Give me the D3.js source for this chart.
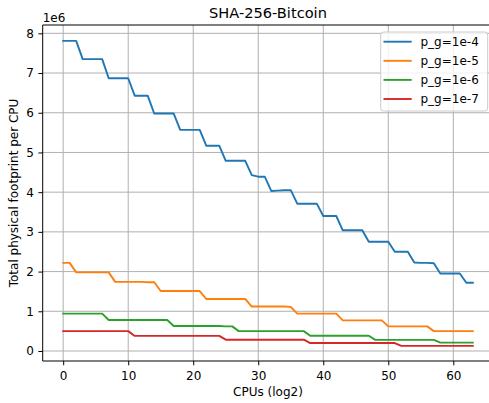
<!DOCTYPE html>
<html>
<head>
<meta charset="utf-8">
<script src="https://cdn.jsdelivr.net/npm/d3@7"></script>
<style>
  html, body { margin: 0; padding: 0; background: #fff; }
  svg { display: block; font-family: "DejaVu Sans", sans-serif; }
</style>
</head>
<body>
<svg id="chart" width="489" height="403"></svg>
<script>
// ---- data (values in units of 1e6) ----
const cpus = [0,1,2,3,4,5,6,7,8,9,10,11,12,13,14,15,16,17,18,19,20,21,22,23,24,25,26,27,28,29,30,31,
              32,33,34,35,36,37,38,39,40,41,42,43,44,45,46,47,48,49,50,51,52,53,54,55,56,57,58,59,60,61,62,63];
const seriesNames = ["p_g=1e-4", "p_g=1e-5", "p_g=1e-6", "p_g=1e-7"];
const pg1e4 = [7.81,7.81,7.81, 7.35,7.35,7.35,7.35, 6.87,6.87,6.87,6.87, 6.43,6.43,6.43,
               5.98,5.98,5.98,5.98, 5.57,5.57,5.57,5.57, 5.17,5.17,5.17, 4.79,4.79,4.79,4.79,
               4.43,4.39,4.39, 4.03,4.04,4.05,4.05, 3.71,3.71,3.71,3.71, 3.40,3.40,3.40,
               3.04,3.04,3.04,3.04, 2.75,2.75,2.75,2.75, 2.50,2.50,2.50, 2.23,2.22,2.22,2.21,
               1.95,1.95,1.95,1.95, 1.72,1.72];
const pg1e5 = [2.22,2.22, 1.98,1.98,1.98,1.98,1.98,1.98, 1.74,1.74,1.74,1.74,1.74,1.73,1.73,
               1.51,1.51,1.51,1.51,1.51,1.51,1.51, 1.31,1.31,1.31,1.31,1.31,1.31,1.31,
               1.12,1.12,1.12,1.12,1.12,1.12,1.11, 0.94,0.94,0.94,0.94,0.94,0.94,0.94,
               0.77,0.77,0.77,0.77,0.77,0.77,0.77, 0.62,0.62,0.62,0.62,0.62,0.62,0.62,
               0.50,0.50,0.50,0.50,0.50,0.50,0.50];
const pg1e6 = [0.94,0.94,0.94,0.94,0.94,0.94,0.94, 0.78,0.78,0.78,0.78,0.78,0.78,0.78,0.78,0.78,0.78,
               0.63,0.63,0.63,0.63,0.63,0.63,0.63,0.63,0.62,0.62,
               0.50,0.50,0.50,0.50,0.50,0.50,0.50,0.50,0.50,0.50,0.50,
               0.385,0.385,0.385,0.385,0.385,0.385,0.385,0.385,0.385,0.385,
               0.28,0.28,0.28,0.28,0.28,0.28,0.28,0.28,0.28,0.28,
               0.21,0.21,0.21,0.21,0.21,0.21];
const pg1e7 = [0.50,0.50,0.50,0.50,0.50,0.50,0.50,0.50,0.50,0.50,0.50,
               0.38,0.38,0.38,0.38,0.38,0.38,0.38,0.38,0.38,0.38,0.38,0.38,0.38,0.38,
               0.285,0.285,0.285,0.285,0.285,0.285,0.285,0.285,0.285,0.285,0.285,0.285,0.285,
               0.20,0.20,0.20,0.20,0.20,0.20,0.20,0.20,0.20,0.20,0.20,0.20,0.20,0.20,
               0.13,0.13,0.13,0.13,0.13,0.13,0.13,0.13,0.13,0.13,0.13,0.13];
const xTicks = [0,10,20,30,40,50,60];
const yTicks = [0,1,2,3,4,5,6,7,8];
const colors = ["#1f77b4", "#ff7f0e", "#2ca02c", "#d62728"];

const allSeries = [pg1e4, pg1e5, pg1e6, pg1e7];

// ---- layout ----
const L = 42.7, R = 493.3, T = 25, B = 361;
const svg = d3.select("#chart");
const x = d3.scaleLinear().domain([-3.15, 66.15]).range([L, R]);
const y = d3.scaleLinear().domain([-0.252, 8.21]).range([B, T]);
const fs = 12;

// grid
const grid = svg.append("g");
grid.selectAll("line.gx").data(xTicks).enter().append("line")
  .attr("x1", d => x(d)).attr("x2", d => x(d)).attr("y1", T).attr("y2", B)
  .attr("stroke", "#b0b0b0").attr("stroke-width", 1);
grid.selectAll("line.gy").data(yTicks).enter().append("line")
  .attr("x1", L).attr("x2", R).attr("y1", d => y(d)).attr("y2", d => y(d))
  .attr("stroke", "#b0b0b0").attr("stroke-width", 1);

// lines
const line = d3.line().x((d, i) => x(cpus[i])).y(d => y(d));
allSeries.forEach((s, k) => {
  svg.append("path").datum(s).attr("d", line)
    .attr("fill", "none").attr("stroke", colors[k]).attr("stroke-width", 1.9)
    .attr("stroke-linejoin", "round").attr("stroke-linecap", "square");
});

// axes
const xAxis = svg.append("g").attr("transform", `translate(0,${B})`)
  .call(d3.axisBottom(x).tickValues(xTicks).tickSize(4.3).tickPadding(6).tickSizeOuter(0));
const yAxis = svg.append("g").attr("transform", `translate(${L},0)`)
  .call(d3.axisLeft(y).tickValues(yTicks).tickSize(4.3).tickPadding(4.5).tickSizeOuter(0));
[xAxis, yAxis].forEach(a => {
  a.selectAll("text").attr("font-size", fs).attr("font-family", "DejaVu Sans").attr("fill", "#000");
  a.selectAll("line").attr("stroke", "#000").attr("stroke-width", 1);
  a.select(".domain").remove();
});
// spines
svg.append("line").attr("x1", L).attr("x2", L).attr("y1", T).attr("y2", B).attr("stroke", "#000").attr("stroke-width", 1);
svg.append("line").attr("x1", L).attr("x2", R).attr("y1", B).attr("y2", B).attr("stroke", "#000").attr("stroke-width", 1);
svg.append("line").attr("x1", L).attr("x2", R).attr("y1", T).attr("y2", T).attr("stroke", "#000").attr("stroke-width", 1);

// offset text
svg.append("text").attr("x", L).attr("y", 22).attr("font-size", fs).text("1e6");

// title
svg.append("text").attr("x", (L + R) / 2).attr("y", 18.3).attr("text-anchor", "middle")
  .attr("font-size", 14.6).text("SHA-256-Bitcoin");

// axis labels
svg.append("text").attr("x", (L + R) / 2).attr("y", 396).attr("text-anchor", "middle")
  .attr("font-size", fs).text("CPUs (log2)");
svg.append("text").attr("transform", `translate(18.3,${(T + B) / 2}) rotate(-90)`)
  .attr("text-anchor", "middle").attr("font-size", fs).text("Total physical footprint per CPU");

// legend
const lg = svg.append("g");
lg.append("rect").attr("x", 380.7).attr("y", 32).attr("width", 107).attr("height", 79)
  .attr("rx", 3).attr("fill", "#fff").attr("fill-opacity", 0.8)
  .attr("stroke", "#cccccc").attr("stroke-width", 1);
seriesNames.forEach((n, k) => {
  const yy = 41.7 + k * 19.1;
  lg.append("line").attr("x1", 383.5).attr("x2", 411.7).attr("y1", yy).attr("y2", yy)
    .attr("stroke", colors[k]).attr("stroke-width", 1.9);
  lg.append("text").attr("x", 420.5).attr("y", yy + 4.4).attr("font-size", fs).text(n);
});
</script>
</body>
</html>
